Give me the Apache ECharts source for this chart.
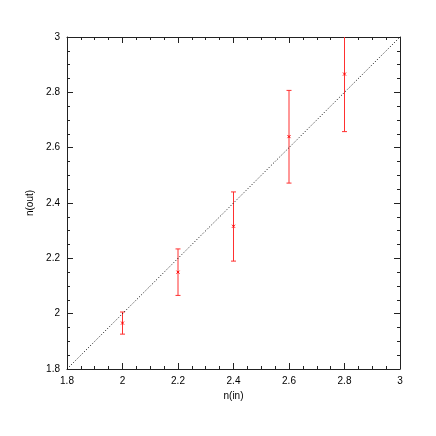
<!DOCTYPE html>
<html><head><meta charset="utf-8">
<script src="https://cdn.jsdelivr.net/npm/echarts@6/dist/echarts.min.js"></script>
<style>html,body{margin:0;padding:0;background:#fff}#c{width:436px;height:436px}</style>
</head><body><div id="c"></div>
<script>
const nIn = [2.0, 2.2, 2.4, 2.6, 2.8];
const nOut = [1.966, 2.150, 2.316, 2.640, 2.866];
const errLow = [1.926, 2.066, 2.190, 2.472, 2.658];
const errHigh = [2.006, 2.234, 2.440, 2.807, 3.074];
const diagonal = [[1.8, 1.8], [3.0, 3.0]];
const xTitle = 'n(in)';
const yTitle = 'n(out)';

const font = 'Liberation Sans, Arial, sans-serif';
const lineCol = '#222';
function axisBase(show) {
  return {
    type: 'value', min: 1.8, max: 3, interval: 0.2,
    axisLine: { show: true, onZero: false, lineStyle: { color: lineCol, width: 1 } },
    axisTick: { show: true, inside: true, length: 6, lineStyle: { color: lineCol } },
    minorTick: { show: true, splitNumber: 4, length: 3, lineStyle: { color: lineCol } },
    splitLine: { show: false },
    axisLabel: { show: show, color: '#000', fontFamily: font, fontSize: 10, margin: 7,
      formatter: v => String(+v.toFixed(2)) }
  };
}
const errData = nIn.map((x, i) => [x, nOut[i], errLow[i], errHigh[i]]);

const chart = echarts.init(document.getElementById('c'), null, { renderer: 'canvas' });
chart.setOption({
  animation: false,
  backgroundColor: '#fff',
  grid: { left: 67, right: 36, top: 37, bottom: 67 },
  xAxis: [
    Object.assign(axisBase(true), { position: 'bottom', name: xTitle, nameLocation: 'middle', nameGap: 22,
      nameTextStyle: { color: '#000', fontFamily: font, fontSize: 10 } }),
    Object.assign(axisBase(false), { position: 'top' })
  ],
  yAxis: [
    Object.assign(axisBase(true), { position: 'left', name: yTitle, nameLocation: 'middle', nameGap: 28,
      nameTextStyle: { color: '#000', fontFamily: font, fontSize: 10 } }),
    Object.assign(axisBase(false), { position: 'right' })
  ],
  series: [
    {
      type: 'line', data: diagonal, symbol: 'none', silent: true,
      lineStyle: { color: '#000', width: 1, type: [1, 2] }
    },
    {
      type: 'custom', clip: true, data: errData,
      renderItem: function (params, api) {
        const x = api.value(0);
        const c = api.coord([x, api.value(1)]);
        const lo = api.coord([x, api.value(2)]);
        const hi = api.coord([x, api.value(3)]);
        const cap = 2.5, m = 1.5;
        const st = { stroke: '#ff3030', lineWidth: 1 };
        return {
          type: 'group',
          children: [
            { type: 'line', shape: { x1: lo[0], y1: lo[1], x2: hi[0], y2: hi[1] }, style: st },
            { type: 'line', shape: { x1: lo[0] - cap, y1: lo[1], x2: lo[0] + cap, y2: lo[1] }, style: st },
            { type: 'line', shape: { x1: hi[0] - cap, y1: hi[1], x2: hi[0] + cap, y2: hi[1] }, style: st },
            { type: 'line', shape: { x1: c[0] - m, y1: c[1] - m, x2: c[0] + m, y2: c[1] + m }, style: { stroke: '#ff0000', lineWidth: 1 } },
            { type: 'line', shape: { x1: c[0] - m, y1: c[1] + m, x2: c[0] + m, y2: c[1] - m }, style: { stroke: '#ff0000', lineWidth: 1 } }
          ]
        };
      }
    }
  ]
});
</script></body></html>
